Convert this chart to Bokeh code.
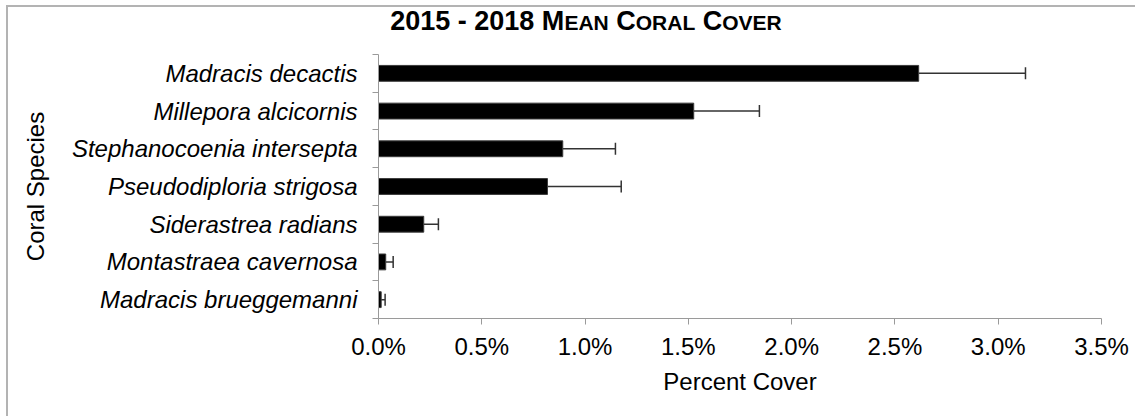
from bokeh.plotting import figure
from bokeh.models import (FixedTicker, PrintfTickFormatter, Whisker, TeeHead,
                          ColumnDataSource, Range1d, Div)
from bokeh.layouts import column
from bokeh.embed import file_html
from bokeh.resources import INLINE

# ---------------- data ----------------
species = ["Madracis decactis", "Millepora alcicornis", "Stephanocoenia intersepta",
           "Pseudodiploria strigosa", "Siderastrea radians", "Montastraea cavernosa",
           "Madracis brueggemanni"]
mean_cover = [2.615, 1.526, 0.892, 0.818, 0.219, 0.035, 0.013]   # percent
error_bar = [0.517, 0.318, 0.255, 0.357, 0.071, 0.036, 0.019]     # percent
x_ticks = [0.0, 0.5, 1.0, 1.5, 2.0, 2.5, 3.0, 3.5]
title_parts = [("2015 - 2018 M", False), ("EAN", True), (" C", False),
               ("ORAL", True), (" C", False), ("OVER", True)]

# ---------------- layout constants ----------------
PAGE_W, PAGE_H = 1137, 417
OX, OY = 8, 7            # content origin inside the grey chart border
TITLE_H = 40
TITLE_CX = 586           # title centre on the page
FIG_W = PAGE_W - OX - 2
FIG_H = PAGE_H - OY - TITLE_H - 1
FL, FR, FT, FB = 378 - OX, 1101 - OX, 54 - OY - TITLE_H, 318 - OY - TITLE_H
FONT = "Liberation Sans"
TXT = "#000000"
AX = "#9a9a9a"
FS = "24px"

n = len(species)
ycent = [n - 0.5 - i for i in range(n)]
src = ColumnDataSource(dict(
    y=ycent, mean=mean_cover,
    upper=[m + e for m, e in zip(mean_cover, error_bar)],
))

p = figure(width=FIG_W, height=FIG_H, output_backend="svg", toolbar_location=None,
           x_range=Range1d(0, 3.5), y_range=Range1d(0, n),
           min_border_left=FL, min_border_right=FIG_W - FR,
           min_border_top=FT, min_border_bottom=FIG_H - FB, margin=0)
p.outline_line_color = None
p.xgrid.visible = False
p.ygrid.visible = False
p.background_fill_color = "white"
p.border_fill_color = "white"

# x axis
xa = p.xaxis[0]
xa.ticker = FixedTicker(ticks=x_ticks)
xa.formatter = PrintfTickFormatter(format="%.1f%%")
xa.axis_line_color = AX
xa.major_tick_line_color = AX
xa.major_tick_out = 6
xa.major_tick_in = 0
xa.minor_tick_line_color = None
xa.major_label_text_font = FONT
xa.major_label_text_font_size = FS
xa.major_label_text_color = TXT
xa.major_label_standoff = 8
xa.axis_label = "Percent Cover"
xa.axis_label_text_font = FONT
xa.axis_label_text_font_size = FS
xa.axis_label_text_font_style = "normal"
xa.axis_label_text_color = TXT
xa.axis_label_standoff = 5

# y axis
ya = p.yaxis[0]
ya.ticker = FixedTicker(ticks=ycent, minor_ticks=[float(i) for i in range(n + 1)])
ya.major_label_overrides = {float(c): s for c, s in zip(ycent, species)}
ya.axis_line_color = AX
ya.major_tick_line_color = None
ya.major_tick_out = 6
ya.major_tick_in = 0
ya.minor_tick_line_color = AX
ya.minor_tick_out = 6
ya.minor_tick_in = 0
ya.major_label_text_font = FONT
ya.major_label_text_font_size = FS
ya.major_label_text_font_style = "italic"
ya.major_label_text_color = TXT
ya.major_label_standoff = 15
ya.axis_label = "Coral Species"
ya.axis_label_text_font = FONT
ya.axis_label_text_font_size = FS
ya.axis_label_text_font_style = "normal"
ya.axis_label_text_color = TXT
ya.axis_label_standoff = 20

# bars
p.hbar(y="y", left=0, right="mean", height=0.42, source=src,
       fill_color="black", line_color="#3a3a3a", line_width=1)

# error bars
p.add_layout(Whisker(source=src, base="y", lower="mean", upper="upper",
                     dimension="width", line_color="#333333", line_width=1.5,
                     upper_head=TeeHead(size=12, line_color="#333333", line_width=1.5),
                     lower_head=None))

# title with small caps (HTML text)
BIG, SMALL = 27, 21
spans = "".join(
    f'<span style="font-size:{SMALL if sm else BIG}px">{t.replace(" ", "&nbsp;")}</span>'
    for t, sm in title_parts)
PAD = 2 * (TITLE_CX - OX) - FIG_W
title_html = (f'<div style="box-sizing:border-box;font-family:\'{FONT}\';font-weight:bold;'
              f'color:{TXT};white-space:nowrap;text-align:center;padding-left:{PAD}px;'
              f'padding-top:1px;line-height:{BIG}px;width:{FIG_W}px;">{spans}</div>')
title_div = Div(text=title_html, width=FIG_W, height=TITLE_H, margin=0)

layout = column(title_div, p, spacing=0, margin=(5, 0, 0, 6),
                styles={"border-left": "2px solid #b3b3b3",
                        "border-top": "2px solid #b3b3b3"})

open("out.html", "w").write(file_html(layout, INLINE))
